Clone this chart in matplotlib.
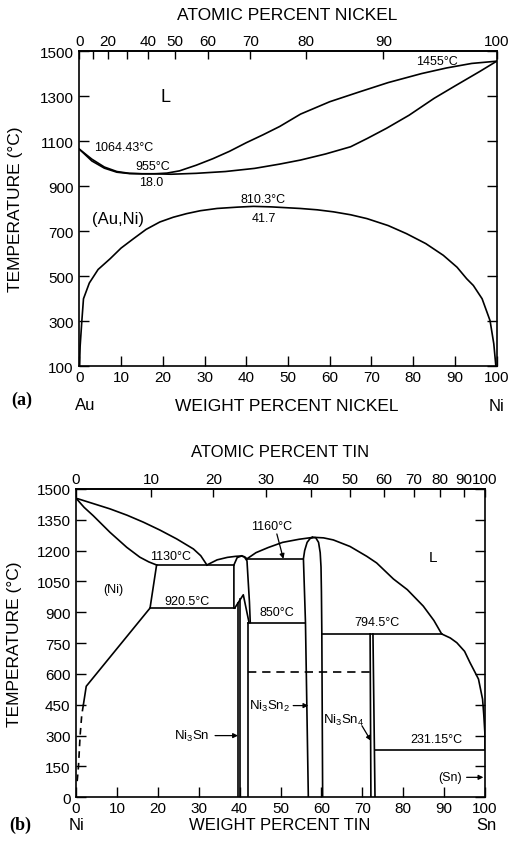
import numpy as np
import matplotlib.pyplot as plt

plt.rcParams['font.family'] = ['Liberation Sans', 'DejaVu Sans']
plt.rcParams['mathtext.default'] = 'regular'

# atomic weights, used for the atomic percent scales on top
M_AU = 196.97
M_NI = 58.69
M_SN = 118.71

# ---------------- (a) Au-Ni : wt% Ni, temperature (C)
a_liq_wt = [0, 3, 6, 9, 12, 15, 18, 21, 24, 28, 32, 36, 40, 44, 48, 53, 60, 67, 74, 82, 88, 94, 100]
a_liq_t = [1064.43, 1020, 985, 965, 957, 955, 955, 958, 968, 993, 1022, 1055, 1093, 1128, 1165,
           1220, 1275, 1318, 1360, 1400, 1425, 1445, 1455]

a_sol_wt = [0, 3, 6, 9, 12, 15, 18, 22, 28, 35, 42, 48, 53, 59, 65, 69, 73.6, 79, 85, 90, 96, 100]
a_sol_t = [1064.43, 1012, 980, 962, 956, 955, 955, 953, 957, 965, 979, 998, 1016, 1043, 1075,
           1112, 1157, 1215, 1290, 1345, 1410, 1455]

a_gap_wt = [0.05, 0.2, 0.6, 1.0, 2.4, 4.5, 7.4, 10, 13, 16, 19.3, 22.5, 25.7, 29, 33, 38, 41.7,
            46, 52.9, 57, 60.9, 65, 68.9, 74, 78.4, 83, 87.2, 90.5, 92.8, 94.4, 96.5, 98.4, 99.3, 99.8]
a_gap_t = [100, 190, 300, 400, 470, 530, 578, 625, 667, 708, 741, 762, 778, 791, 801, 807, 810.3,
           808, 801, 795, 786, 773, 756, 725, 689, 645, 593, 540, 489, 459, 400, 303, 200, 100]

a_yticks = [100, 300, 500, 700, 900, 1100, 1300, 1500]
a_at_ticks = [0, 10, 20, 30, 40, 50, 60, 70, 80, 90, 100]
a_at_labels = ['0', '', '20', '', '40', '50', '60', '70', '80', '90', '100']

# ---------------- (b) Ni-Sn : wt% Sn, temperature (C)
b_liq1_wt = [0, 4, 8.3, 12.5, 16.5, 20.5, 24.6, 28.7, 30.5, 32.0]
b_liq1_t = [1455, 1430, 1403, 1372, 1338, 1300, 1257, 1208, 1175, 1130]
b_sol_wt = [0, 2, 4.2, 8.3, 12.4, 15.6, 17.8, 19.7]
b_sol_t = [1455, 1410, 1370, 1289, 1216, 1168, 1145, 1130]
b_solv_wt = [19.7, 18.1, 2.5, 1.8]
b_solv_t = [1130, 920.5, 540, 450]
b_solv_dash_wt = [1.8, 1.4, 1.0, 0.6, 0.2]
b_solv_dash_t = [450, 400, 300, 150, 60]

b_liq2_wt = [32.0, 34.5, 37, 39, 40.5, 41.2, 41.8]
b_liq2_t = [1130, 1155, 1167, 1172, 1174, 1170, 1160]
b_liq3_wt = [41.8, 44, 47, 50.5, 54.5, 57.8]
b_liq3_t = [1160, 1190, 1215, 1240, 1255, 1264]
b_liq4_wt = [57.8, 58.6, 60.5, 62.9, 67, 71.1, 73.5, 77.6, 81, 84.9, 87.5, 89.4, 91.5, 93.1, 95,
             96.3, 97.5, 98.4, 99.4, 99.7, 100, 100]
b_liq4_t = [1264, 1264, 1262, 1252, 1220, 1172, 1140, 1062, 1010, 930, 860, 794.5, 775, 752, 710,
            656, 610, 575, 477, 400, 300, 231.9]

# Ni3Sn high temperature field
b_n3hl_wt = [38.6, 38.6, 39.4, 40.5]
b_n3hl_t = [920.5, 1130, 1166, 1174]
b_n3hr_wt = [40.5, 41.2, 41.8, 42.1, 42.4, 42.6]
b_n3hr_t = [1174, 1168, 1150, 1050, 950, 850]
b_lam_wt = [38.8, 40.9, 42.3]
b_lam_t = [920.5, 985, 850]
b_n3_left_wt = [39.6, 39.6]
b_n3_left_t = [0, 945]
b_n3_right_wt = [40.2, 40.2]
b_n3_right_t = [0, 964]
b_n3_edge_wt = [42.1, 42.1]
b_n3_edge_t = [0, 850]

# Ni3Sn2
b_n32l_wt = [56.8, 56.1, 55.6, 55.9, 56.5, 57.2, 57.8]
b_n32l_t = [0, 850, 1160, 1200, 1240, 1258, 1264]
b_n32r_wt = [57.8, 58.6, 59.3, 59.7, 59.9, 60.0, 60.1, 60.3]
b_n32r_t = [1264, 1263, 1240, 1190, 1120, 1000, 800, 0]

# Ni3Sn4
b_n34l_wt = [71.9, 72.1]
b_n34l_t = [794.5, 0]
b_n34r_wt = [72.6, 73.1]
b_n34r_t = [794.5, 0]

# invariant lines: (wt from, wt to, temperature)
b_iso = [(19.7, 38.6, 1130), (18.1, 38.8, 920.5), (41.8, 55.6, 1160), (42.1, 56.1, 850),
         (60.1, 89.4, 794.5), (73.1, 100, 231.15)]
b_dash = (42.1, 72.3, 607)

b_yticks = [0, 150, 300, 450, 600, 750, 900, 1050, 1200, 1350, 1500]
b_at_ticks = [0, 10, 20, 30, 40, 50, 60, 70, 80, 90, 100]


def make_conv(m_a, m_b):
    # wt% of B -> at% of B and back
    def wt2at(w):
        w = np.clip(np.asarray(w, float), 0, 100)
        return 100 * (w / m_b) / (w / m_b + (100 - w) / m_a)

    def at2wt(a):
        a = np.clip(np.asarray(a, float), 0, 100)
        return 100 * (a * m_b) / (a * m_b + (100 - a) * m_a)
    return wt2at, at2wt


def setup_axes(ax, yticks, ylim, conv, at_ticks, at_labels, fs):
    ax.set_xlim(0, 100)
    ax.set_ylim(*ylim)
    ax.set_xticks(range(0, 101, 10))
    ax.set_yticks(yticks)
    ax.tick_params(direction='in', length=7.5, width=1.0, labelsize=fs,
                   right=True, top=False, pad=4)
    ax.tick_params(axis='x', pad=3)
    for s in ax.spines.values():
        s.set_linewidth(1.2)
    sec = ax.secondary_xaxis('top', functions=conv)
    sec.set_xticks(at_ticks)
    sec.set_xticklabels(at_labels)
    sec.tick_params(direction='in', length=6, width=1.0, labelsize=fs, pad=2)
    sec.spines['top'].set_linewidth(1.2)
    return sec


fig = plt.figure(figsize=(5.15, 8.45), dpi=100)
lw = 1.2

# ---------------- panel (a)
ax = fig.add_axes([0.1540, 0.5653, 0.8105, 0.3731])
setup_axes(ax, a_yticks, (100, 1500), make_conv(M_AU, M_NI), a_at_ticks, a_at_labels, 11)
ax.plot(a_liq_wt, a_liq_t, color='black', lw=lw)
ax.plot(a_sol_wt, a_sol_t, color='black', lw=lw)
ax.plot(a_gap_wt, a_gap_t, color='black', lw=lw)

ax.text(10.6, 1072, '1064.43°C', fontsize=9, ha='center', va='center')
ax.text(17.7, 989, '955°C', fontsize=9, ha='center', va='center')
ax.text(17.3, 920, '18.0', fontsize=9, ha='center', va='center')
ax.text(44.1, 841, '810.3°C', fontsize=9, ha='center', va='center')
ax.text(44.1, 759, '41.7', fontsize=9, ha='center', va='center')
ax.text(9.3, 756, '(Au,Ni)', fontsize=12, ha='center', va='center')
ax.text(20.7, 1298, 'L', fontsize=13, ha='center', va='center')
ax.text(85.6, 1454, '1455°C', fontsize=9, ha='center', va='center')

ax.text(0.497, 1.117, 'ATOMIC PERCENT NICKEL', transform=ax.transAxes, fontsize=12.5,
        ha='center', va='center')
ax.text(0.497, -0.125, 'WEIGHT PERCENT NICKEL', transform=ax.transAxes, fontsize=12.5,
        ha='center', va='center')
ax.text(0.014, -0.122, 'Au', transform=ax.transAxes, fontsize=12, ha='center', va='center')
ax.text(1.0, -0.125, 'Ni', transform=ax.transAxes, fontsize=12, ha='center', va='center')
ax.text(-0.138, -0.104, '(a)', transform=ax.transAxes, fontsize=13, ha='center', va='center',
        family='Liberation Serif', weight='bold')
ax.text(-0.152, 0.5, 'TEMPERATURE (°C)', transform=ax.transAxes, fontsize=12.5,
        ha='center', va='center', rotation=90)

# ---------------- panel (b)
bx = fig.add_axes([0.1476, 0.0553, 0.7942, 0.3649])
setup_axes(bx, b_yticks, (0, 1500), make_conv(M_NI, M_SN), b_at_ticks,
           [str(v) for v in b_at_ticks], 11)

for xs, ys in [(b_liq1_wt, b_liq1_t), (b_sol_wt, b_sol_t), (b_solv_wt, b_solv_t),
               (b_liq2_wt, b_liq2_t), (b_liq3_wt, b_liq3_t), (b_liq4_wt, b_liq4_t),
               (b_n3hl_wt, b_n3hl_t), (b_n3hr_wt, b_n3hr_t), (b_lam_wt, b_lam_t),
               (b_n3_left_wt, b_n3_left_t), (b_n3_right_wt, b_n3_right_t),
               (b_n3_edge_wt, b_n3_edge_t), (b_n32l_wt, b_n32l_t), (b_n32r_wt, b_n32r_t),
               (b_n34l_wt, b_n34l_t), (b_n34r_wt, b_n34r_t)]:
    bx.plot(xs, ys, color='black', lw=lw)
bx.plot(b_solv_dash_wt, b_solv_dash_t, color='black', lw=lw, ls=(0, (4, 3)))
for x0, x1, t in b_iso:
    bx.plot([x0, x1], [t, t], color='black', lw=lw)
bx.plot([b_dash[0], b_dash[1]], [b_dash[2], b_dash[2]], color='black', lw=lw, ls=(0, (5, 3.5)))

bx.text(47.8, 1321, '1160°C', fontsize=9, ha='center', va='center')
bx.text(23.0, 1173, '1130°C', fontsize=9, ha='center', va='center')
bx.text(9.1, 1013, '(Ni)', fontsize=9, ha='center', va='center')
bx.text(27.1, 957, '920.5°C', fontsize=9, ha='center', va='center')
bx.text(49.1, 900, '850°C', fontsize=9, ha='center', va='center')
bx.text(73.5, 851, '794.5°C', fontsize=9, ha='center', va='center')
bx.text(87.4, 1168, 'L', fontsize=11, ha='center', va='center')
bx.text(88.2, 284, '231.15°C', fontsize=9, ha='center', va='center')
bx.text(47.4, 446, 'Ni$_3$Sn$_2$', fontsize=9.5, ha='center', va='center')
bx.text(65.4, 381, 'Ni$_3$Sn$_4$', fontsize=9.5, ha='center', va='center')
bx.text(28.3, 300, 'Ni$_3$Sn', fontsize=9.5, ha='center', va='center')
bx.text(91.4, 97, '(Sn)', fontsize=9, ha='center', va='center')

arrow = dict(arrowstyle='-|>', color='black', lw=0.9, mutation_scale=7, shrinkA=0, shrinkB=0)
bx.annotate('', xy=(50.7, 1160), xytext=(49.1, 1281), arrowprops=arrow)
bx.annotate('', xy=(56.8, 446), xytext=(53.1, 446), arrowprops=arrow)
bx.annotate('', xy=(72.1, 275), xytext=(69.9, 348), arrowprops=arrow)
bx.annotate('', xy=(39.6, 300), xytext=(34.0, 300), arrowprops=arrow)
bx.annotate('', xy=(99.6, 97), xytext=(95.5, 97), arrowprops=arrow)

bx.text(0.499, 1.120, 'ATOMIC PERCENT TIN', transform=bx.transAxes, fontsize=12,
        ha='center', va='center')
bx.text(0.499, -0.087, 'WEIGHT PERCENT TIN', transform=bx.transAxes, fontsize=12,
        ha='center', va='center')
bx.text(0.002, -0.087, 'Ni', transform=bx.transAxes, fontsize=12, ha='center', va='center')
bx.text(1.004, -0.087, 'Sn', transform=bx.transAxes, fontsize=12, ha='center', va='center')
bx.text(-0.137, -0.087, '(b)', transform=bx.transAxes, fontsize=13, ha='center', va='center',
        family='Liberation Serif', weight='bold')
bx.text(-0.150, 0.5, 'TEMPERATURE (°C)', transform=bx.transAxes, fontsize=12.5,
        ha='center', va='center', rotation=90)

fig.savefig('out.png', dpi=100)
